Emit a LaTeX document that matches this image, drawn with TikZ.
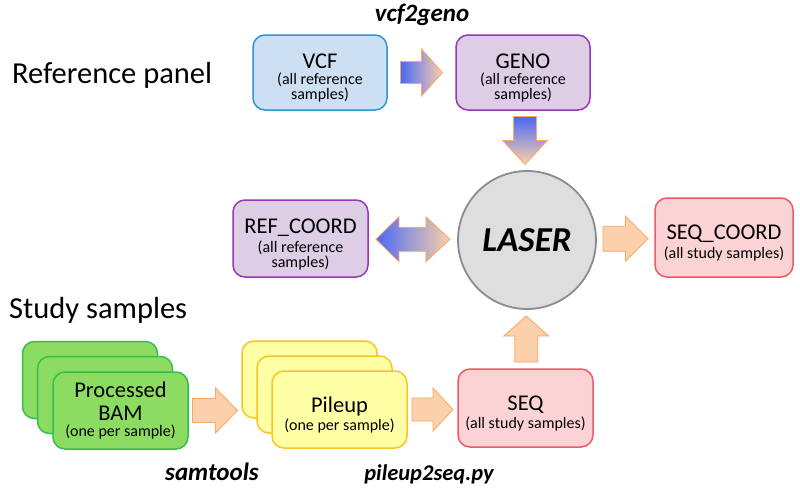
\documentclass[tikz,border=0pt]{standalone}
\usepackage{fontspec}
\setmainfont{Carlito}
\usetikzlibrary{calc}
\definecolor{peachfill}{RGB}{252,208,170}
\definecolor{peachdraw}{RGB}{247,168,98}
\definecolor{arrblue}{RGB}{75,105,245}
\definecolor{vcffill}{RGB}{205,223,243}
\definecolor{vcfdraw}{RGB}{45,150,212}
\definecolor{purfill}{RGB}{221,206,229}
\definecolor{purdraw}{RGB}{150,55,180}
\definecolor{pinkfill}{RGB}{251,211,213}
\definecolor{pinkdraw}{RGB}{238,88,100}
\definecolor{grnfill}{RGB}{140,220,98}
\definecolor{grndraw}{RGB}{50,190,80}
\definecolor{yelfill}{RGB}{255,255,165}
\definecolor{yeldraw}{RGB}{250,196,35}
\definecolor{lasfill}{RGB}{222,222,222}
\definecolor{lasdraw}{RGB}{140,140,140}
\newcommand\mytitle{\fontsize{22.5}{24}\selectfont\rule{0pt}{26pt}}
\newcommand\mytitleb{\fontsize{22.5}{24}\selectfont}
\newcommand\mysub{\fontsize{16}{17}\selectfont}
% right-pointing block arrow centred at #6: half length #2, head length #3, shaft half #4, head half #5
\newcommand\blockR[6][]{%
  \path[#1] ([shift={(-#2,-#4)}]#6) -- ([shift={(#2-#3,-#4)}]#6) -- ([shift={(#2-#3,-#5)}]#6)
    -- ([shift={(#2,0)}]#6) -- ([shift={(#2-#3,#5)}]#6) -- ([shift={(#2-#3,#4)}]#6)
    -- ([shift={(-#2,#4)}]#6) -- cycle;}
% vertical block arrow centred at #6; positive #2 points down, negative up
\newcommand\blockV[6][]{%
  \path[#1] ([shift={(-#4,-#2)}]#6) -- ([shift={(-#4,#2-#3)}]#6) -- ([shift={(-#5,#2-#3)}]#6)
    -- ([shift={(0,#2)}]#6) -- ([shift={(#5,#2-#3)}]#6) -- ([shift={(#4,#2-#3)}]#6)
    -- ([shift={(#4,-#2)}]#6) -- cycle;}
\begin{document}
\begin{tikzpicture}[x=1pt,y=-1pt,
  box/.style={draw, line width=1.5pt, rounded corners=12pt, align=center, inner sep=1pt,
    minimum width=135pt, minimum height=77pt},
  vcfbox/.style={box, fill=vcffill, draw=vcfdraw},
  purbox/.style={box, fill=purfill, draw=purdraw},
  pinkbox/.style={box, fill=pinkfill, draw=pinkdraw},
  grnbox/.style={box, fill=grnfill, draw=grndraw},
  yelbox/.style={box, fill=yelfill, draw=yeldraw},
  peach/.style={fill=peachfill, draw=peachdraw, line width=0.8pt, line join=miter},
  bluepeachH/.style={shade, left color=arrblue, middle color=peachfill, right color=peachfill, draw=peachdraw, line width=0.8pt},
  bluepeachV/.style={shade, top color=arrblue, middle color=peachfill, bottom color=peachfill, draw=peachdraw, line width=0.8pt},
  heading/.style={font=\fontsize{30.5}{32}\selectfont, anchor=base west, inner sep=0pt},
  tool/.style={font=\fontsize{25}{27}\selectfont\bfseries\itshape, anchor=base, inner sep=0pt}
]
\useasboundingbox (0,0) rectangle (800,501);
\fill[white] (0,0) rectangle (800,501);

% headings
\node[heading] (refpanel) at (12,83) {Reference panel};
\node[heading] (studysam) at (9,318) {Study samples};

% top row
\node[vcfbox, minimum width=134pt, minimum height=75pt] (vcf) at (320,72.5)
  {\mytitle VCF\\[4pt]\mysub (all reference\\\mysub samples)};
\node[purbox, minimum width=134pt, minimum height=75pt] (geno) at (523,72.5)
  {\mytitle GENO\\[4pt]\mysub (all reference\\\mysub samples)};
\node[tool] (vcf2geno) at (422,21) {vcf2geno};

% middle row
\node[circle, draw=lasdraw, fill=lasfill, line width=1.8pt, minimum size=138pt, inner sep=0pt,
  font=\fontsize{35}{37}\selectfont\bfseries\itshape] (laser) at (527,240) {LASER};
\node[purbox] (refcoord) at (300.5,238.5)
  {\mytitle REF\_COORD\\[3pt]\mysub (all reference\\\mysub samples)};
\node[pinkbox, minimum width=138pt, minimum height=79pt] (seqcoord) at (724,237.5)
  {\mytitle SEQ\_COORD\\[3pt]\mysub (all study samples)};

% bottom row
\node[grnbox] (bam3) at (90,380) {};
\node[grnbox] (bam2) at (105,395) {};
\node[grnbox] (bam) at (120.5,410.5)
  {\mytitleb Processed\\[8pt]\mytitleb BAM\\[4pt]\mysub (one per sample)};
\node[yelbox] (pile3) at (309.5,379.5) {};
\node[yelbox] (pile2) at (324.5,394.5) {};
\node[yelbox] (pile) at (339.5,409.5)
  {\mytitle Pileup\\[2pt]\mysub (one per sample)};
\node[pinkbox, minimum height=78pt] (seq) at (525.5,408)
  {\mytitle SEQ\\[2pt]\mysub (all study samples)};
\node[tool] (samtools) at (212,480) {samtools};
\node[tool, font=\fontsize{22.5}{24}\selectfont\bfseries\itshape] (pileup2seq) at (429,480) {pileup2seq.py};

% block arrows between the nodes
\coordinate (a1) at ($(vcf.east)!0.5!(geno.west)$);
\blockR[bluepeachH]{21}{21}{11}{23.5}{a1}

\coordinate (a2) at ($(geno.south)!0.5!(laser.north)$);
\blockV[bluepeachV]{24}{24}{11.5}{22.5}{a2}

\coordinate (a3) at ($(refcoord.east)!0.5!(laser.west)$);
\path[bluepeachH] ([shift={(-37,0)}]a3) -- ([shift={(-14,-22.5)}]a3) -- ([shift={(-14,-12)}]a3)
  -- ([shift={(13,-12)}]a3) -- ([shift={(13,-22.5)}]a3) -- ([shift={(37,0)}]a3)
  -- ([shift={(13,22.5)}]a3) -- ([shift={(13,12)}]a3) -- ([shift={(-14,12)}]a3)
  -- ([shift={(-14,22.5)}]a3) -- cycle;

\coordinate (a4) at ($(laser.east)!0.5!(seqcoord.west)$);
\blockR[peach]{22.5}{22.5}{12.5}{22.5}{a4}

\coordinate (a5) at ($(seq.north)!0.5!(laser.south)$);
\blockV[peach]{-23}{-20}{11.5}{22.5}{a5}

\coordinate (a6) at ($(bam.east)!0.5!(pile3.west |- bam.east)$);
\blockR[peach]{22.5}{22}{12}{22.5}{a6}

\coordinate (a7) at ($(pile.east)!0.5!(seq.west |- pile.east)$);
\blockR[peach]{20.5}{20}{11.5}{21.5}{a7}
\end{tikzpicture}
\end{document}
